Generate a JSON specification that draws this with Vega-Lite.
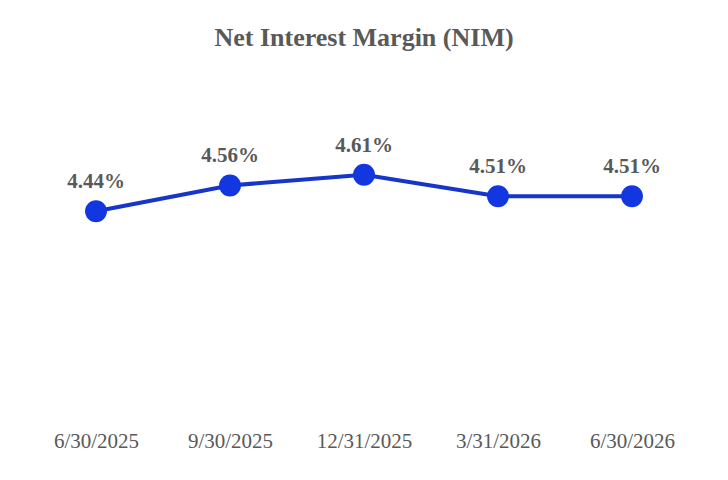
{
  "$schema": "https://vega.github.io/schema/vega-lite/v6.json",
  "width": 670,
  "height": 322,
  "autosize": {"type": "none"},
  "padding": {"left": 29, "top": 91, "right": 29, "bottom": 67},
  "background": "white",
  "title": {
    "text": "Net Interest Margin (NIM)",
    "font": "Liberation Serif",
    "fontSize": 26,
    "fontWeight": "bold",
    "color": "#595959",
    "anchor": "middle",
    "offset": 40
  },
  "data": {
    "values": [
      {"date": "6/30/2025", "nim": 4.44, "label": "4.44%"},
      {"date": "9/30/2025", "nim": 4.56, "label": "4.56%"},
      {"date": "12/31/2025", "nim": 4.61, "label": "4.61%"},
      {"date": "3/31/2026", "nim": 4.51, "label": "4.51%"},
      {"date": "6/30/2026", "nim": 4.51, "label": "4.51%"}
    ]
  },
  "encoding": {
    "x": {
      "field": "date",
      "type": "ordinal",
      "sort": null,
      "scale": {"type": "point", "padding": 0.5},
      "axis": {
        "title": null,
        "labelAngle": 0,
        "domain": false,
        "ticks": false,
        "grid": false,
        "labelFont": "Liberation Serif",
        "labelFontSize": 21,
        "labelColor": "#595959",
        "labelPadding": 17
      }
    },
    "y": {
      "field": "nim",
      "type": "quantitative",
      "scale": {"domain": [3.5, 5.0], "zero": false},
      "axis": null
    }
  },
  "layer": [
    {"mark": {"type": "line", "color": "#1536c8", "strokeWidth": 4}},
    {"mark": {"type": "circle", "color": "#1236e0", "size": 480, "opacity": 1}},
    {
      "mark": {
        "type": "text",
        "dy": -29,
        "font": "Liberation Serif",
        "fontSize": 21,
        "fontWeight": "bold",
        "color": "#595959"
      },
      "encoding": {"text": {"field": "label"}}
    }
  ],
  "config": {"view": {"stroke": null}}
}
